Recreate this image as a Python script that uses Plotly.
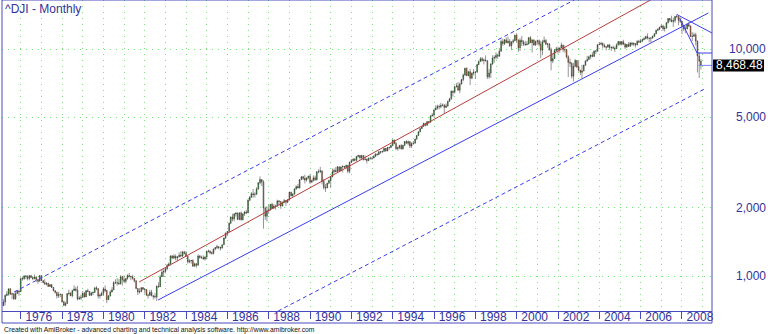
import math
import pandas as pd
import plotly.graph_objects as go

title_text = "^DJI - Monthly"
footer_text = ("Created with AmiBroker - advanced charting and technical analysis "
               "software. http://www.amibroker.com")
first_month = "1975-03-01"

# Monthly OHLC of the Dow Jones Industrial Average, Mar 1975 .. Dec 2008
opens = [
    739, 768, 821, 832, 879, 832, 835, 794, 836, 861,
    852, 975, 973, 999, 997, 975, 1003, 985, 974, 990, 965, 947,
    1005, 954, 936, 919, 927, 899, 916, 890, 861, 847, 818, 830,
    831, 770, 742, 757, 837, 841, 819, 862, 877, 866, 792, 799,
    805, 839, 809, 862, 855, 822, 842, 846, 888, 879, 816, 822,
    839, 876, 863, 786, 817, 851, 868, 935, 933, 932, 924, 993,
    964, 947, 975, 1004, 998, 992, 977, 952, 881, 850, 853, 889,
    875, 871, 824, 823, 848, 820, 812, 809, 901, 896, 992, 1039,
    1047, 1076, 1113, 1130, 1226, 1200, 1222, 1199, 1216, 1233, 1225, 1276,
    1259, 1221, 1155, 1165, 1171, 1105, 1132, 1115, 1224, 1207, 1207, 1189,
    1212, 1287, 1284, 1267, 1258, 1315, 1335, 1347, 1334, 1329, 1374, 1472,
    1547, 1571, 1709, 1819, 1784, 1877, 1893, 1775, 1898, 1768, 1878, 1914,
    1896, 2158, 2224, 2305, 2286, 2292, 2419, 2572, 2663, 2596, 1994, 1834,
    1939, 1958, 2072, 1988, 2032, 2031, 2142, 2129, 2032, 2113, 2149, 2115,
    2169, 2342, 2258, 2294, 2419, 2480, 2440, 2661, 2737, 2693, 2645, 2706,
    2753, 2591, 2627, 2707, 2657, 2877, 2881, 2905, 2614, 2452, 2442, 2560,
    2634, 2736, 2882, 2914, 2888, 3028, 2907, 3025, 3044, 3017, 3069, 2895,
    3169, 3223, 3268, 3235, 3359, 3397, 3319, 3394, 3257, 3272, 3226, 3305,
    3301, 3310, 3371, 3435, 3428, 3527, 3516, 3539, 3651, 3555, 3681, 3684,
    3754, 3978, 3832, 3636, 3682, 3758, 3625, 3765, 3913, 3843, 3908, 3739,
    3834, 3844, 4011, 4158, 4321, 4465, 4556, 4708, 4611, 4789, 4755, 5074,
    5117, 5395, 5486, 5587, 5569, 5643, 5655, 5529, 5616, 5882, 6029, 6522,
    6448, 6813, 6878, 6583, 7009, 7331, 7673, 8223, 7622, 7945, 7442, 7823,
    7908, 7907, 8546, 8800, 9063, 8900, 8952, 8883, 7539, 7843, 8592, 9117,
    9181, 9359, 9307, 9786, 10789, 10560, 10971, 10655, 10829, 10337, 10730, 10878,
    11497, 10941, 10128, 10922, 10734, 10522, 10448, 10522, 11215, 10651, 10971, 10414,
    10787, 10887, 10495, 9879, 10735, 10912, 10502, 10523, 9950, 8848, 9075, 9852,
    10022, 9920, 10106, 10404, 9946, 9925, 9243, 8737, 8664, 7592, 8397, 8896,
    8342, 8054, 7891, 7992, 8480, 8850, 8985, 9234, 9416, 9275, 9801, 9782,
    10454, 10488, 10584, 10358, 10226, 10188, 10435, 10140, 10174, 10080, 10027, 10428,
    10783, 10490, 10766, 10504, 10193, 10467, 10275, 10641, 10482, 10569, 10440, 10806,
    10718, 10865, 10993, 11109, 11367, 11168, 11150, 11186, 11381, 11679, 12081, 12222,
    12463, 12622, 12269, 12354, 13063, 13628, 13409, 13212, 13358, 13896, 13930, 13372,
    13265, 12650, 12266, 12263, 12820, 12638, 11350, 11378, 11544, 10851, 9325, 8829,
]
highs = [
    791, 830, 858, 879, 882, 845, 840, 856, 866, 861,
    985, 995, 1011, 1011, 1007, 1011, 1011, 990, 1015, 997, 966, 1009,
    1005, 958, 969, 940, 936, 919, 923, 895, 866, 852, 852, 836,
    831, 778, 770, 837, 871, 848, 871, 910, 896, 905, 815, 828,
    859, 850, 866, 879, 859, 852, 854, 888, 902, 885, 837, 854,
    893, 909, 869, 825, 865, 893, 949, 967, 979, 969, 1009, 1001,
    1006, 978, 1018, 1031, 1001, 1012, 979, 958, 885, 883, 890, 893,
    882, 864, 835, 869, 869, 820, 839, 911, 938, 1012, 1070, 1071,
    1093, 1129, 1145, 1232, 1237, 1249, 1243, 1226, 1272, 1287, 1288, 1290,
    1287, 1220, 1184, 1175, 1186, 1145, 1140, 1245, 1237, 1230, 1232, 1222,
    1293, 1307, 1300, 1285, 1320, 1338, 1372, 1351, 1347, 1374, 1476, 1553,
    1576, 1718, 1832, 1880, 1892, 1907, 1907, 1904, 1920, 1883, 1936, 1952,
    2176, 2250, 2344, 2416, 2339, 2460, 2591, 2747, 2662, 2641, 2020, 2031,
    2060, 2075, 2100, 2072, 2060, 2169, 2162, 2141, 2124, 2190, 2155, 2182,
    2349, 2349, 2315, 2434, 2502, 2542, 2661, 2752, 2762, 2792, 2713, 2767,
    2810, 2660, 2774, 2765, 2899, 2956, 3024, 2915, 2682, 2541, 2580, 2662,
    2764, 2971, 2978, 3018, 3044, 3035, 3033, 3072, 3050, 3099, 3089, 3190,
    3284, 3299, 3306, 3384, 3420, 3413, 3421, 3404, 3393, 3292, 3318, 3350,
    3330, 3401, 3478, 3478, 3554, 3534, 3567, 3657, 3662, 3704, 3710, 3794,
    3989, 3984, 3895, 3718, 3781, 3812, 3781, 3930, 3963, 3956, 3883, 3885,
    3932, 4015, 4173, 4330, 4480, 4589, 4727, 4704, 4801, 4803, 5105, 5216,
    5405, 5660, 5683, 5689, 5793, 5747, 5729, 5749, 5905, 6094, 6562, 6561,
    6883, 7079, 7158, 7112, 7383, 7797, 8260, 8299, 8003, 8178, 7891, 8167,
    7973, 8581, 8904, 9211, 9211, 9069, 9367, 8938, 8154, 8657, 9380, 9374,
    9675, 9552, 10085, 11000, 11108, 11075, 11252, 11326, 11079, 10850, 11089, 11569,
    11750, 11039, 11172, 11425, 10936, 10865, 10844, 11310, 11401, 10993, 10987, 10899,
    11000, 11016, 10858, 10973, 11350, 11056, 10660, 10630, 10140, 9547, 9983, 10225,
    10259, 10172, 10673, 10443, 10354, 10021, 9379, 9077, 8734, 8676, 9043, 8926,
    8869, 8109, 8522, 8532, 8924, 9323, 9360, 9429, 9686, 9853, 9893, 10482,
    10703, 10754, 10678, 10570, 10319, 10480, 10467, 10241, 10356, 10241, 10592, 10854,
    10851, 10842, 10984, 10623, 10542, 10717, 10720, 10719, 10710, 10619, 10939, 10985,
    11098, 11116, 11286, 11430, 11711, 11202, 11255, 11472, 11720, 12170, 12361, 12529,
    12796, 12795, 12612, 13121, 13692, 13693, 14022, 13744, 14000, 14198, 13939, 13780,
    13279, 12767, 12622, 13010, 13136, 12700, 11867, 11808, 11791, 10882, 9654, 9026,
]
lows = [
    737, 742, 815, 818, 825, 791, 784, 786, 835, 818,
    852, 955, 962, 968, 957, 958, 979, 959, 966, 940, 924, 947,
    950, 929, 917, 909, 895, 897, 886, 857, 837, 796, 800, 806,
    763, 740, 736, 752, 822, 815, 805, 861, 853, 781, 785, 784,
    805, 803, 809, 849, 817, 818, 823, 844, 865, 796, 796, 816,
    817, 850, 759, 785, 812, 846, 867, 922, 907, 916, 917, 908,
    936, 928, 963, 984, 959, 963, 935, 877, 825, 837, 848, 868,
    837, 815, 795, 816, 813, 788, 796, 777, 888, 896, 1007, 990,
    1027, 1061, 1104, 1113, 1186, 1185, 1172, 1161, 1206, 1209, 1212, 1242,
    1215, 1134, 1139, 1133, 1098, 1101, 1087, 1112, 1191, 1189, 1178, 1169,
    1184, 1269, 1247, 1242, 1244, 1299, 1316, 1311, 1297, 1319, 1372, 1457,
    1502, 1568, 1692, 1740, 1742, 1828, 1763, 1760, 1755, 1761, 1839, 1876,
    1895, 2135, 2212, 2213, 2215, 2278, 2396, 2532, 2492, 1616, 1767, 1738,
    1879, 1943, 1974, 1982, 1961, 2031, 2057, 1977, 2029, 2092, 2038, 2092,
    2144, 2244, 2235, 2288, 2402, 2438, 2433, 2645, 2650, 2555, 2603, 2665,
    2543, 2566, 2620, 2625, 2634, 2838, 2836, 2532, 2400, 2344, 2437, 2552,
    2447, 2721, 2833, 2862, 2861, 2892, 2906, 2858, 2976, 2945, 2836, 2833,
    3147, 3196, 3201, 3196, 3330, 3254, 3274, 3225, 3233, 3130, 3204, 3257,
    3241, 3298, 3340, 3370, 3409, 3446, 3480, 3534, 3535, 3547, 3600, 3660,
    3730, 3808, 3594, 3564, 3620, 3610, 3612, 3738, 3827, 3769, 3662, 3660,
    3826, 3838, 3986, 4136, 4295, 4448, 4551, 4565, 4593, 4661, 4732, 5044,
    5000, 5376, 5406, 5420, 5474, 5589, 5170, 5504, 5568, 5846, 5982, 6182,
    6375, 6778, 6560, 6392, 6977, 7213, 7642, 7614, 7591, 6936, 7359, 7658,
    7391, 7881, 8474, 8777, 8801, 8547, 8803, 7379, 7400, 7467, 8519, 8695,
    8994, 9056, 9228, 9736, 10323, 10398, 10638, 10569, 10213, 9884, 10559, 10824,
    10700, 9732, 9796, 10306, 10299, 10337, 10385, 10468, 10630, 9655, 10348, 10318,
    10434, 10294, 9106, 9390, 10626, 10400, 10120, 9821, 8062, 8659, 9040, 9736,
    9529, 9625, 10097, 9704, 9626, 9100, 7532, 8319, 7419, 7197, 8308, 8232,
    7945, 7673, 7416, 7992, 8439, 8805, 8970, 9031, 9204, 9275, 9509, 9744,
    10401, 10451, 10053, 10151, 9852, 10162, 9913, 9808, 10047, 9708, 10019, 10365,
    10368, 10369, 10402, 10013, 10090, 10224, 10218, 10370, 10293, 10156, 10354, 10666,
    10661, 10716, 10945, 11022, 11014, 10698, 10706, 11096, 11297, 11617, 11992, 12106,
    12367, 12039, 11926, 12335, 12982, 13166, 13129, 12518, 13048, 13666, 12724, 13021,
    11634, 11993, 11731, 12211, 12479, 11288, 10828, 11335, 10365, 7882, 7449, 8118,
]
closes = [
    768, 821, 832, 879, 832, 835, 794, 836, 861, 852,
    975, 973, 999, 997, 975, 1003, 985, 974, 990, 965, 947, 1005,
    954, 936, 919, 927, 899, 916, 890, 861, 847, 818, 830, 831,
    770, 742, 757, 837, 841, 819, 862, 877, 866, 792, 799, 805,
    839, 809, 862, 855, 822, 842, 846, 888, 879, 816, 822, 839,
    876, 863, 786, 817, 851, 868, 935, 933, 932, 924, 993, 964,
    947, 975, 1004, 998, 992, 977, 952, 881, 850, 853, 889, 875,
    871, 824, 823, 848, 820, 812, 809, 901, 896, 992, 1039, 1047,
    1076, 1113, 1130, 1226, 1200, 1222, 1199, 1216, 1233, 1225, 1276, 1259,
    1221, 1155, 1165, 1171, 1105, 1132, 1115, 1224, 1207, 1207, 1189, 1212,
    1287, 1284, 1267, 1258, 1315, 1335, 1347, 1334, 1329, 1374, 1472, 1547,
    1571, 1709, 1819, 1784, 1877, 1893, 1775, 1898, 1768, 1878, 1914, 1896,
    2158, 2224, 2305, 2286, 2292, 2419, 2572, 2663, 2596, 1994, 1834, 1939,
    1958, 2072, 1988, 2032, 2031, 2142, 2129, 2032, 2113, 2149, 2115, 2169,
    2342, 2258, 2294, 2419, 2480, 2440, 2661, 2737, 2693, 2645, 2706, 2753,
    2591, 2627, 2707, 2657, 2877, 2881, 2905, 2614, 2452, 2442, 2560, 2634,
    2736, 2882, 2914, 2888, 3028, 2907, 3025, 3044, 3017, 3069, 2895, 3169,
    3223, 3268, 3235, 3359, 3397, 3319, 3394, 3257, 3272, 3226, 3305, 3301,
    3310, 3371, 3435, 3428, 3527, 3516, 3539, 3651, 3555, 3681, 3684, 3754,
    3978, 3832, 3636, 3682, 3758, 3625, 3765, 3913, 3843, 3908, 3739, 3834,
    3844, 4011, 4158, 4321, 4465, 4556, 4708, 4611, 4789, 4755, 5074, 5117,
    5395, 5486, 5587, 5569, 5643, 5655, 5529, 5616, 5882, 6029, 6522, 6448,
    6813, 6878, 6583, 7009, 7331, 7673, 8223, 7622, 7945, 7442, 7823, 7908,
    7907, 8546, 8800, 9063, 8900, 8952, 8883, 7539, 7843, 8592, 9117, 9181,
    9359, 9307, 9786, 10789, 10560, 10971, 10655, 10829, 10337, 10730, 10878, 11497,
    10941, 10128, 10922, 10734, 10522, 10448, 10522, 11215, 10651, 10971, 10414, 10787,
    10887, 10495, 9879, 10735, 10912, 10502, 10523, 9950, 8848, 9075, 9852, 10022,
    9920, 10106, 10404, 9946, 9925, 9243, 8737, 8664, 7592, 8397, 8896, 8342,
    8054, 7891, 7992, 8480, 8850, 8985, 9234, 9416, 9275, 9801, 9782, 10454,
    10488, 10584, 10358, 10226, 10188, 10435, 10140, 10174, 10080, 10027, 10428, 10783,
    10490, 10766, 10504, 10193, 10467, 10275, 10641, 10482, 10569, 10440, 10806, 10718,
    10865, 10993, 11109, 11367, 11168, 11150, 11186, 11381, 11679, 12081, 12222, 12463,
    12622, 12269, 12354, 13063, 13628, 13409, 13212, 13358, 13896, 13930, 13372, 13265,
    12650, 12266, 12263, 12820, 12638, 11350, 11378, 11544, 10851, 9325, 8829, 8468.48,
]

year_ticks = list(range(1976, 2009, 2))
price_ticks = [1000, 2000, 5000, 10000]
price_tick_labels = ["1,000", "2,000", "5,000", "10,000"]
last_value = 8468.48
last_label = "8,468.48"

# hand-drawn trend lines: (dates, values)
red_line_dates = ["1981-09-24", "2006-06-25"]
red_line_values = [941, 16440]
blue_line_dates = ["1982-08-25", "2009-04-12"]
blue_line_values = [784, 14410]
upper_dash_dates = ["1975-09-05", "2002-10-15"]
upper_dash_values = [850, 16440]
lower_dash_dates = ["1988-06-15", "2009-03-05"]
lower_dash_values = [701, 6730]
fan_a_dates = ["2007-10-01", "2009-06-15"]
fan_a_values = [14198, 11764]
fan_b_dates = ["2007-11-20", "2008-09-24"]
fan_b_values = [13700, 9603]
level_dates = ["2008-09-24", "2009-06-15"]
level_values = [9603, 9603]
price_line_dates = ["2008-10-20", "2009-06-15"]
price_line_values = [last_value, last_value]

dates = pd.date_range(first_month, periods=len(closes), freq="MS")

NAVY = "#333399"
FRAME = "#4a4ac0"
GRID = "#7fe07f"
FONT = "Liberation Sans, Arial, sans-serif"

W, H = 770, 334
L, R, T, B = 2, 58, 0, 23
PW, PH = W - L - R, H - T - B
y_range = [2.8458, 4.2159]
x_range = ["1975-02-04", "2009-06-15"]

fig = go.Figure()

def add_line(xs, ys, color, dash="solid", width=1):
    fig.add_trace(go.Scatter(x=xs, y=ys, mode="lines", hoverinfo="skip",
                             line=dict(color=color, width=width, dash=dash),
                             showlegend=False))

add_line(upper_dash_dates, upper_dash_values, "#3c3cf0", "4px,3px")
add_line(lower_dash_dates, lower_dash_values, "#3c3cf0", "4px,3px")
add_line(red_line_dates, red_line_values, "#b83c3c")
add_line(blue_line_dates, blue_line_values, "#3c3cf0")

fig.add_trace(go.Candlestick(
    x=dates, open=opens, high=highs, low=lows, close=closes,
    increasing=dict(fillcolor="#1fa01f", line=dict(color="#2a2a2a", width=0.5)),
    decreasing=dict(fillcolor="#e06a20", line=dict(color="#2a2a2a", width=0.5)),
    whiskerwidth=0, showlegend=False, hoverinfo="skip",
))

add_line(fan_a_dates, fan_a_values, "#3c3cf0")
add_line(fan_b_dates, fan_b_values, "#3c3cf0")
add_line(level_dates, level_values, "#3c3cf0")
add_line(price_line_dates, price_line_values, "#8080ff")

annotations = []
for v, t in zip(price_ticks, price_tick_labels):
    annotations.append(dict(x=(768 - L) / PW, xref="paper", y=math.log10(v), yref="y",
                            text=t, showarrow=False, xanchor="right", yanchor="middle",
                            font=dict(family=FONT, size=12, color=NAVY)))

ly = (math.log10(last_value) - y_range[0]) / (y_range[1] - y_range[0])
annotations.append(dict(x=(713 - L) / PW, xref="paper", y=ly, yref="paper",
                        text=last_label, showarrow=False, xanchor="left", yanchor="middle",
                        xshift=1, font=dict(family=FONT, size=12, color="white")))
annotations.append(dict(x=(3 - L) / PW, xref="paper", y=1, yref="paper", text=title_text,
                        showarrow=False, xanchor="left", yanchor="top",
                        font=dict(family=FONT, size=12, color=NAVY)))
annotations.append(dict(x=0, xref="paper", y=(PH - 330) / PH, yref="paper", text=footer_text,
                        showarrow=False, xanchor="left", yanchor="middle",
                        font=dict(family=FONT, size=6.8, color="#111111")))

shapes = [
    dict(type="rect", xref="paper", yref="paper", x0=(713 - L) / PW, x1=(764 - L) / PW,
         y0=ly - 6 / PH, y1=ly + 6 / PH, fillcolor="black", line=dict(width=0), layer="above"),
    dict(type="rect", xref="paper", yref="paper", x0=0, x1=1, y0=-12 / PH, y1=1,
         line=dict(color=FRAME, width=1), layer="above"),
]

fig.update_layout(
    width=W, height=H, margin=dict(l=L, r=R, t=T, b=B),
    paper_bgcolor="white", plot_bgcolor="white",
    showlegend=False, annotations=annotations, shapes=shapes,
    font=dict(family=FONT, size=12, color=NAVY),
    xaxis=dict(
        type="date", range=x_range, rangeslider=dict(visible=False),
        tickvals=[f"{y}-01-01" for y in year_ticks], ticktext=[str(y) for y in year_ticks],
        ticks="outside", ticklen=7, tickwidth=1, tickcolor=FRAME,
        ticklabelshift=18, ticklabelstandoff=-12,
        tickfont=dict(family=FONT, size=12, color=NAVY),
        showgrid=True, gridcolor=GRID, griddash="1px,5px", gridwidth=1,
        minor=dict(dtick="M12", tick0="1976-01-01", showgrid=True, gridcolor=GRID,
                   griddash="1px,5px", ticklen=0),
        showline=True, linecolor=FRAME, linewidth=1, zeroline=False,
    ),
    yaxis=dict(
        type="log", range=y_range, tickvals=price_ticks, showticklabels=False,
        ticks="", showgrid=True, gridcolor=GRID, griddash="1px,5px", gridwidth=1,
        showline=False, zeroline=False,
    ),
)

fig.write_html("out.html")
